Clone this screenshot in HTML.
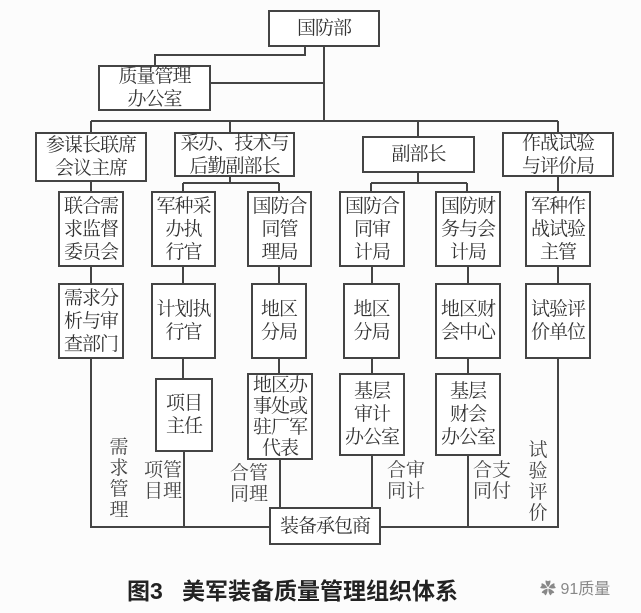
<!DOCTYPE html>
<html><head><meta charset="utf-8"><style>
body{margin:0;width:641px;height:613px;background:#fcfcfc;overflow:hidden;position:relative;font-family:"Liberation Serif","Noto Serif CJK SC",serif;color:#333}
.b{position:absolute;border:2px solid #444;box-sizing:border-box;background:#fff;display:flex;align-items:center;justify-content:center;text-align:center;font-size:19px;line-height:23px;letter-spacing:-1px}
.t{position:absolute;font-size:19px;line-height:21px;color:#444;text-align:center}
svg{position:absolute;left:0;top:0}
</style></head><body>
<svg width="641" height="613"><g stroke="#444" stroke-width="2" fill="none">
<path d="M324 47V121M305 47V55H155V65M211 83H324M91 121H558M91 121V132M230 121V132M418 121V136M558 121V132"/>
<path d="M91 182V191M230 177V183M183 183H279M183 183V191M279 183V191M418 173V183M371 183H467M371 183V191M467 183V191M558 177V191"/>
<path d="M91 267V283M183 267V283M279 267V283M372 267V283M468 267V283M558 267V283"/>
<path d="M91 359V527H269M183 359V378M279 359V373M372 359V373M468 359V373M558 359V527H381M184 452V527M280 460V507M372 456V507M468 456V527"/>
</g></svg>
<div class="b" style="left:268px;top:10px;width:112px;height:37px">国防部</div>
<div class="b" style="left:98px;top:65px;width:113px;height:46px">质量管理<br>办公室</div>
<div class="b" style="left:35px;top:132px;width:112px;height:50px">参谋长联席<br>会议主席</div>
<div class="b" style="left:174px;top:132px;width:121px;height:45px">采办、技术与<br>后勤副部长</div>
<div class="b" style="left:362px;top:136px;width:113px;height:37px">副部长</div>
<div class="b" style="left:502px;top:132px;width:112px;height:45px">作战试验<br>与评价局</div>
<div class="b" style="left:58px;top:191px;width:66px;height:76px">联合需<br>求监督<br>委员会</div>
<div class="b" style="left:151px;top:191px;width:65px;height:76px">军种采<br>办执<br>行官</div>
<div class="b" style="left:247px;top:191px;width:65px;height:76px">国防合<br>同管<br>理局</div>
<div class="b" style="left:339px;top:191px;width:66px;height:76px">国防合<br>同审<br>计局</div>
<div class="b" style="left:435px;top:191px;width:66px;height:76px">国防财<br>务与会<br>计局</div>
<div class="b" style="left:525px;top:191px;width:66px;height:76px">军种作<br>战试验<br>主管</div>
<div class="b" style="left:58px;top:283px;width:66px;height:76px">需求分<br>析与审<br>查部门</div>
<div class="b" style="left:151px;top:283px;width:65px;height:76px">计划执<br>行官</div>
<div class="b" style="left:251px;top:283px;width:56px;height:76px">地区<br>分局</div>
<div class="b" style="left:343px;top:283px;width:57px;height:76px">地区<br>分局</div>
<div class="b" style="left:435px;top:283px;width:66px;height:76px">地区财<br>会中心</div>
<div class="b" style="left:525px;top:283px;width:66px;height:76px">试验评<br>价单位</div>
<div class="b" style="left:155px;top:378px;width:58px;height:74px">项目<br>主任</div>
<div class="b" style="left:247px;top:373px;width:66px;height:87px;line-height:21px">地区办<br>事处或<br>驻厂军<br>代表</div>
<div class="b" style="left:339px;top:373px;width:66px;height:83px">基层<br>审计<br>办公室</div>
<div class="b" style="left:435px;top:373px;width:66px;height:83px">基层<br>财会<br>办公室</div>
<div class="b" style="left:269px;top:507px;width:112px;height:38px">装备承包商</div>
<div class="t" style="left:108px;top:437px;width:22px">需<br>求<br>管<br>理</div>
<div class="t" style="left:143px;top:460px;width:40px">项管<br>目理</div>
<div class="t" style="left:229px;top:463px;width:40px">合管<br>同理</div>
<div class="t" style="left:386px;top:460px;width:40px">合审<br>同计</div>
<div class="t" style="left:472px;top:460px;width:40px">合支<br>同付</div>
<div class="t" style="left:527px;top:440px;width:22px">试<br>验<br>评<br>价</div>
<div style="position:absolute;left:127px;top:572px;font-family:'Liberation Sans','Noto Sans CJK SC',sans-serif;font-size:23px;font-weight:bold;color:#222;white-space:nowrap">图3&nbsp;&nbsp;&nbsp;美军装备质量管理组织体系</div>
<div style="position:absolute;left:540px;top:575px;font-family:'Liberation Sans','Noto Sans CJK SC',sans-serif;font-size:16px;color:#888;white-space:nowrap">✿ 91质量</div>
</body></html>
